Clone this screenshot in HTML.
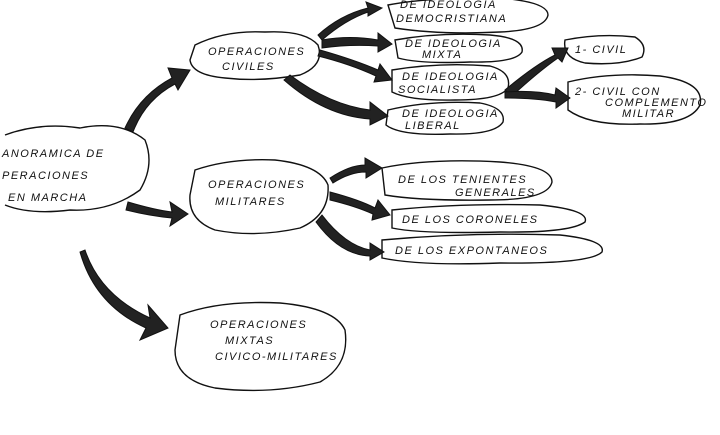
<!DOCTYPE html>
<html><head><meta charset="utf-8"><style>
html,body{margin:0;padding:0;background:#fff;}
svg{display:block}
text{font-family:"Liberation Sans",sans-serif;font-size:11px;fill:#111;font-style:italic;letter-spacing:1.5px}
.c{fill:none;stroke:#111;stroke-width:1.4}
.a{fill:#222;stroke:#111;stroke-width:1}
</style></head><body>
<svg width="720" height="435" viewBox="0 0 720 435">
<rect width="720" height="435" fill="#fff"/>
<path class="c" d="M5,135 Q40,122 80,128 Q120,120 145,140 Q155,165 140,190 Q110,212 70,210 Q30,215 5,205"/>
<path class="c" d="M195,45 Q225,30 265,32 Q305,30 318,45 Q325,65 300,75 Q260,82 225,78 Q192,75 190,60 Z"/>
<path class="c" d="M195,170 Q230,158 275,160 Q320,165 328,185 Q330,215 300,228 Q255,238 215,230 Q188,220 190,195 Z"/>
<path class="c" d="M180,315 Q220,300 280,303 Q335,308 345,330 Q350,365 320,382 Q270,395 215,388 Q175,380 175,350 Z"/>
<path class="c" d="M388,5 Q430,-3 500,-2 Q548,2 548,15 Q545,30 500,32 Q440,35 395,28 Z"/>
<path class="c" d="M395,40 Q440,32 490,35 Q525,38 522,52 Q515,63 470,62 Q420,64 398,58 Z"/>
<path class="c" d="M392,70 Q440,62 490,66 Q512,72 508,88 Q500,100 455,100 Q410,101 392,92 Z"/>
<path class="c" d="M388,110 Q430,100 480,103 Q506,108 503,122 Q495,135 450,134 Q400,136 386,125 Z"/>
<path class="c" d="M565,40 Q600,33 635,37 Q648,45 642,57 Q620,66 585,63 Q562,58 565,40 Z"/>
<path class="c" d="M568,82 Q610,72 660,76 Q705,82 700,105 Q690,125 640,124 Q590,126 568,110 Z"/>
<path class="c" d="M382,168 Q430,158 500,162 Q552,166 552,182 Q548,200 490,200 Q420,201 385,195 Z"/>
<path class="c" d="M392,210 Q460,203 540,205 Q590,210 585,222 Q570,233 500,232 Q420,234 392,228 Z"/>
<path class="c" d="M382,240 Q470,232 560,235 Q606,240 602,252 Q590,264 500,263 Q420,266 382,258 Z"/>
<path class="a" d="M125,128 Q140,95 172,78 L168,68 L190,70 L178,90 L175,84 Q145,100 133,132 Z"/>
<path class="a" d="M128,202 Q155,210 172,212 L170,202 L188,214 L170,226 L172,218 Q150,216 126,210 Z"/>
<path class="a" d="M85,250 Q100,295 150,318 L148,305 L168,328 L140,340 L146,328 Q95,305 80,252 Z"/>
<path class="a" d="M318,35 Q340,15 368,8 L366,2 L382,8 L368,16 L368,12 Q345,20 322,40 Z"/>
<path class="a" d="M322,40 Q350,35 378,40 L378,33 L392,44 L378,52 L378,46 Q350,44 322,48 Z"/>
<path class="a" d="M320,50 Q355,60 378,70 L380,64 L392,80 L374,82 L376,76 Q350,64 318,56 Z"/>
<path class="a" d="M290,75 Q330,105 370,110 L370,102 L388,116 L370,125 L370,119 Q325,116 284,80 Z"/>
<path class="a" d="M505,90 Q535,65 555,55 L552,48 L568,48 L562,62 L558,58 Q538,72 512,96 Z"/>
<path class="a" d="M505,92 Q535,90 555,95 L556,88 L570,98 L556,108 L556,102 Q535,98 505,98 Z"/>
<path class="a" d="M330,178 Q350,165 365,165 L365,158 L382,168 L366,178 L366,172 Q350,172 333,183 Z"/>
<path class="a" d="M330,192 Q360,200 375,208 L378,200 L390,215 L372,220 L373,214 Q355,206 330,200 Z"/>
<path class="a" d="M322,215 Q345,245 370,250 L370,243 L384,252 L370,260 L370,256 Q340,255 316,222 Z"/>
<text x="2" y="157" font-size="13">ANORAMICA DE</text>
<text x="2" y="179" font-size="13">PERACIONES</text>
<text x="8" y="201" font-size="13">EN MARCHA</text>
<text x="208" y="55" font-size="10">OPERACIONES</text>
<text x="222" y="70" font-size="10">CIVILES</text>
<text x="208" y="188" font-size="10">OPERACIONES</text>
<text x="215" y="205" font-size="10">MILITARES</text>
<text x="210" y="328" font-size="10">OPERACIONES</text>
<text x="225" y="344" font-size="10">MIXTAS</text>
<text x="215" y="360" font-size="9">CIVICO-MILITARES</text>
<text x="400" y="8" font-size="9">DE IDEOLOGIA</text>
<text x="396" y="22" font-size="9">DEMOCRISTIANA</text>
<text x="405" y="47" font-size="9">DE IDEOLOGIA</text>
<text x="422" y="58" font-size="9">MIXTA</text>
<text x="402" y="80" font-size="9">DE IDEOLOGIA</text>
<text x="398" y="93" font-size="9">SOCIALISTA</text>
<text x="402" y="117" font-size="9">DE IDEOLOGIA</text>
<text x="405" y="129" font-size="9">LIBERAL</text>
<text x="575" y="53" font-size="9">1- CIVIL</text>
<text x="575" y="95" font-size="9">2- CIVIL CON</text>
<text x="605" y="106" font-size="8">COMPLEMENTO</text>
<text x="622" y="117" font-size="8">MILITAR</text>
<text x="398" y="183" font-size="10">DE LOS TENIENTES</text>
<text x="455" y="196" font-size="10">GENERALES</text>
<text x="402" y="223" font-size="10">DE LOS CORONELES</text>
<text x="395" y="254" font-size="10">DE LOS EXPONTANEOS</text>
</svg>
</body></html>
